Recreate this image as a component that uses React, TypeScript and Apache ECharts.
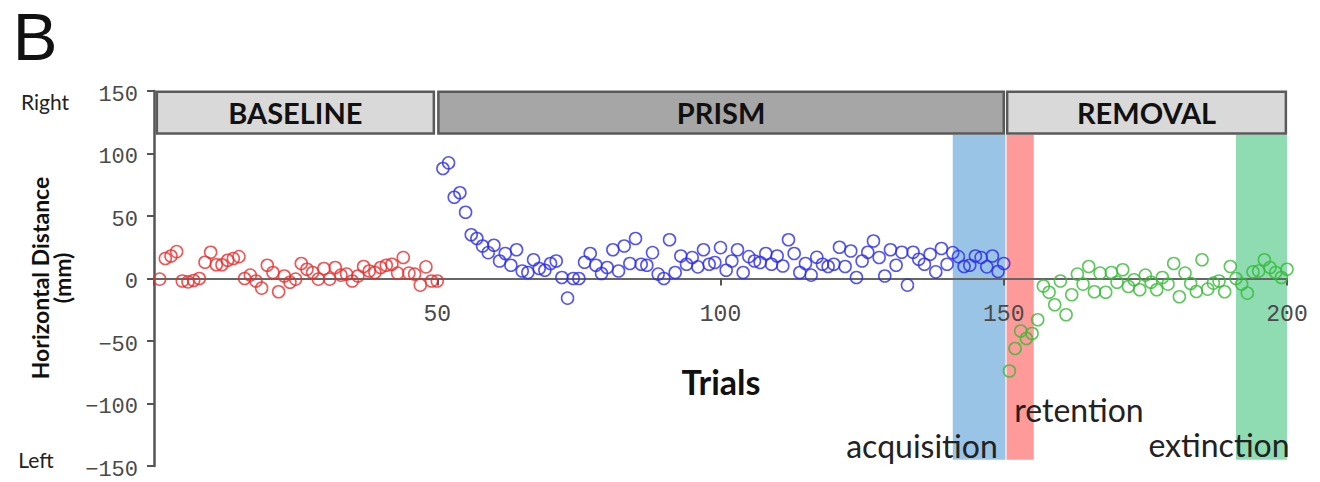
import React, { useEffect, useRef } from "react";
import * as echarts from "echarts";

// Baseline trials 1-50
const baselineValues = [
  -0.5, 16, 18, 21.5, -2, -2.7, -1.6, 0, 13, 21,
  11, 11, 14.6, 16, 17.5, 0, 2.7, -2, -7.7, 10.6,
  4.8, -10.6, 2, -3, -0.5, 12, 7.4, 4.8, -0.5, 8,
  -0.5, 8.8, 2.7, 3.5, -2, 2, 9.6, 6, 4.8, 8.8,
  10.6, 11.4, 4.3, 16.8, 4.3, 3.5, -5.3, 9.3, -2, -2,
];
// Prism trials 51-150
const prismValues = [
  88, 92.5, 65, 68.6, 53, 35, 32, 26, 20.7, 26.6,
  14, 20, 10.6, 23, 6, 4.8, 15, 8, 6.6, 12,
  14, 0.8, -15.7, 0, 0, 13, 20, 10.6, 4, 8.8,
  23, 6, 26, 12, 32, 11.4, 10.6, 20.7, 3.5, 0,
  31, 4.8, 18, 11.4, 16.8, 9.3, 23, 11.4, 12.8, 24.7,
  6.6, 14, 23, 4.8, 17.5, 14, 12.8, 20, 11.4, 18,
  10, 31, 20, 4.8, 12, 2.7, 17, 11.4, 9.6, 11.4,
  25, 9.6, 22, 0.8, 14, 21, 30, 16.8, 2, 23,
  10.6, 21, -5.3, 21, 15.4, 11.4, 19.4, 5.3, 24, 11.4,
  20.7, 17.5, 9.6, 10.6, 18, 16.8, 9.3, 18, 5.6, 12,
];
// Removal trials 151-200
const removalValues = [
  -74, -56, -42, -48, -44, -33, -6, -11, -21, -2,
  -29, -13, 3.5, -4.5, 9.6, -10.6, 4.3, -11, 4.8, -3,
  7, -6.4, -1, -9, 2.7, -3, -9, 0.8, -4.5, 12,
  -14.6, 4.3, -4, -10.4, 15, -8.5, -3.7, -2, -10.6, 9.6,
  0, -4.5, -11.7, 5.3, 6, 15, 8.8, 4.8, 0.8, 7.4,
];

const phaseNames = ["BASELINE", "PRISM", "REMOVAL"];
const phaseStart = [0.5, 50.2, 150.6];
const phaseEnd = [49.4, 150.0, 199.8];
const phaseColors = ["#d9d9d9", "#a6a6a6", "#d9d9d9"];

const bandNames = ["acquisition", "retention", "extinction"];
const bandStart = [141, 150.5, 191];
const bandEnd = [150.3, 155.3, 200];
const bandColors = ["#9ac4e6", "#ff9a9a", "#8fdcb2"];

const yTicks = [-150, -100, -50, 0, 50, 100, 150];
const xTicks = [0, 50, 100, 150, 200];

const toPoints = (vals: number[], start: number) =>
  vals.map((v, i) => [start + i, v]);

export default function App() {
  const ref = useRef<HTMLDivElement>(null);
  useEffect(() => {
    if (!ref.current) return;
    const chart = echarts.init(ref.current, null, { renderer: "svg" });
    const monoFont = "Liberation Mono";
    const sans = "Lato";
    const gridTop = 91;
    const gridBottom = 16;
    const plotH = 482 - gridTop - gridBottom;
    const zeroOffset = -plotH / 2;
    const pointStyle = (c: string) => ({
      color: "transparent",
      borderColor: c,
      borderWidth: 1.6,
    });
    const option: any = {
      animation: false,
      backgroundColor: "#ffffff",
      grid: {
        left: 154,
        right: 33,
        top: gridTop,
        bottom: gridBottom,
        containLabel: false,
        outerBoundsMode: "none",
      },
      xAxis: {
        type: "value",
        position: "bottom",
        offset: zeroOffset,
        min: xTicks[0],
        max: xTicks[xTicks.length - 1],
        interval: 50,
        z: 3,
        axisLine: { onZero: false, lineStyle: { color: "#666", width: 2 } },
        axisTick: { show: true, length: 7, lineStyle: { color: "#555", width: 2 } },
        splitLine: { show: false },
        axisLabel: {
          margin: 25,
          fontFamily: monoFont,
          fontSize: 23,
          color: "#4a4a4a",
          formatter: (v: number) => (v === 0 ? "" : String(v)),
        },
      },
      yAxis: {
        type: "value",
        min: yTicks[0],
        max: yTicks[yTicks.length - 1],
        interval: 50,
        z: 3,
        axisLine: { show: true, onZero: false, lineStyle: { color: "#555", width: 2.5 } },
        axisTick: { show: true, length: 7, lineStyle: { color: "#555", width: 2 } },
        splitLine: { show: false },
        axisLabel: {
          margin: 16,
          fontFamily: monoFont,
          fontSize: 22,
          color: "#4a4a4a",
          verticalAlign: "top",
          lineHeight: 8,
          formatter: (v: number) => String(v).replace("-", "\u2212"),
        },
      },
      series: [
        {
          type: "scatter",
          name: "bands",
          data: [],
          z: 1,
          silent: true,
          markArea: {
            silent: true,
            z: 1,
            label: { show: false },
            data: bandNames.map((n, i) => [
              { name: n, xAxis: bandStart[i], yAxis: 115, itemStyle: { color: bandColors[i] } },
              { xAxis: bandEnd[i], yAxis: -145 },
            ]),
          },
        },
        {
          type: "scatter",
          name: "Baseline",
          z: 5,
          symbol: "circle",
          symbolSize: 12,
          itemStyle: pointStyle("#ee2a2a"),
          data: toPoints(baselineValues, 1),
        },
        {
          type: "scatter",
          name: "Prism",
          z: 5,
          symbol: "circle",
          symbolSize: 12,
          itemStyle: pointStyle("#2b2bf0"),
          data: toPoints(prismValues, 51),
        },
        {
          type: "scatter",
          name: "Removal",
          z: 5,
          symbol: "circle",
          symbolSize: 12,
          itemStyle: pointStyle("#35bb35"),
          data: toPoints(removalValues, 151),
        },
        {
          type: "scatter",
          name: "phases",
          data: [],
          z: 6,
          silent: true,
          markArea: {
            silent: true,
            z: 6,
            label: {
              show: true,
              position: "inside",
              fontFamily: sans,
              fontWeight: "bold",
              fontSize: 29,
              color: "#111",
            },
            data: phaseNames.map((n, i) => [
              {
                name: n,
                xAxis: phaseStart[i],
                yAxis: 149.5,
                itemStyle: { color: phaseColors[i], borderColor: "#5a5a5a", borderWidth: 2.5 },
              },
              { xAxis: phaseEnd[i], yAxis: 116 },
            ]),
          },
        },
      ],
      graphic: [
        {
          type: "text", x: 35, y: 36, z: 10,
          style: { text: "B", font: "400 67px 'Liberation Sans'", fill: "#111", align: "center", verticalAlign: "middle" },
        },
        {
          type: "text", x: 45, y: 101, z: 10,
          style: { text: "Right", font: "400 21px 'Lato'", fill: "#222", align: "center", verticalAlign: "middle" },
        },
        {
          type: "text", x: 36, y: 459, z: 10,
          style: { text: "Left", font: "400 21px 'Lato'", fill: "#222", align: "center", verticalAlign: "middle" },
        },
        {
          type: "text", x: 51, y: 278, rotation: Math.PI / 2, z: 10,
          style: {
            text: "Horizontal Distance\n(mm)",
            font: "700 23px 'Lato'",
            lineHeight: 22,
            fill: "#111",
            align: "center",
            verticalAlign: "middle",
          },
        },
        {
          type: "text", x: 721, y: 381, z: 10,
          style: { text: "Trials", font: "700 34px 'Lato'", fill: "#111", align: "center", verticalAlign: "middle" },
        },
        {
          type: "text", x: 922, y: 445, z: 10,
          style: { text: bandNames[0], font: "400 32px 'Lato'", fill: "#222", align: "center", verticalAlign: "middle" },
        },
        {
          type: "text", x: 1079, y: 409, z: 10,
          style: { text: bandNames[1], font: "400 32px 'Lato'", fill: "#222", align: "center", verticalAlign: "middle" },
        },
        {
          type: "text", x: 1219, y: 444, z: 10,
          style: { text: bandNames[2], font: "400 32px 'Lato'", fill: "#222", align: "center", verticalAlign: "middle" },
        },
      ],
    };
    chart.setOption(option);
    return () => chart.dispose();
  }, []);
  return (
    <div
      ref={ref}
      style={{ position: "fixed", left: 0, top: 0, width: 1320, height: 482, background: "#fff" }}
    />
  );
}
